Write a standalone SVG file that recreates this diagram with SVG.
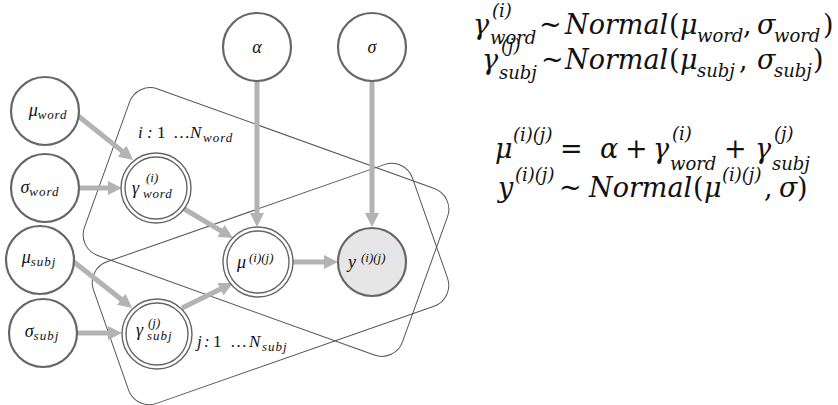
<svg xmlns="http://www.w3.org/2000/svg" width="838" height="405" viewBox="0 0 838 405">
  <style>
    .plate { fill: none; stroke: #555; stroke-width: 1; }
    .node { fill: #fff; stroke: #666; stroke-width: 2.2; }
    .obs { fill: #e6e6e6; stroke: #666; stroke-width: 2.2; }
    .dbl { fill: #fff; stroke: #666; stroke-width: 1.4; }
    .dbl-in { fill: none; stroke: #666; stroke-width: 1.4; }
    .edge { stroke: #b3b3b3; stroke-width: 5; fill: none; marker-end: url(#ah); }
    text { fill: #111; }
    .up { font-style: normal; }
    .lbl { font-size: 18px; }
    .lsub { font-size: 13px; }
    .eq { font-size: 27px; font-family: "DejaVu Serif", serif; font-style: italic; }
    .esub { font-size: 18px; }
  </style>
  <defs>
    <marker id="ah" markerUnits="userSpaceOnUse" markerWidth="14" markerHeight="14" viewBox="0 -7 14 14" refX="2" refY="0" orient="auto">
      <path d="M0,-7 L14,0 L0,7 z" fill="#b3b3b3"/>
    </marker>
  </defs>

  <g font-family="Liberation Serif, serif" font-style="italic">
  <!-- plates -->
  <g id="plate-word">
    <rect class="plate" x="97" y="133.5" width="338" height="177" rx="22" transform="rotate(19.8 266 222)"/>
    <text font-size="17"><tspan x="138" y="138">i</tspan><tspan x="147" y="138">:</tspan><tspan x="157" y="138" class="up">1</tspan><tspan x="173" y="138" class="up">…</tspan><tspan x="190" y="138">N</tspan><tspan x="203" y="142" font-size="13" letter-spacing="1">word</tspan></text>
  </g>
  <g id="plate-subj">
    <rect class="plate" x="101.5" y="209" width="338" height="150" rx="22" transform="rotate(-19.3 270.5 284)"/>
    <text font-size="17"><tspan x="197" y="347">j</tspan><tspan x="204" y="347">:</tspan><tspan x="213" y="347" class="up">1</tspan><tspan x="230" y="347" class="up">…</tspan><tspan x="249" y="347">N</tspan><tspan x="262" y="351" font-size="13" letter-spacing="1">subj</tspan></text>
  </g>

  <!-- connectors -->
  <g id="connectors">
    <line class="edge" x1="257" y1="81" x2="257" y2="215"/>
    <line class="edge" x1="372" y1="81" x2="372" y2="215"/>
    <line class="edge" x1="293" y1="262" x2="326" y2="262"/>
    <line class="edge" x1="79" y1="188" x2="110" y2="188"/>
    <line class="edge" x1="77" y1="115" x2="123.7" y2="152.4"/>
    <line class="edge" x1="181" y1="207" x2="222.7" y2="231.9"/>
    <line class="edge" x1="74" y1="262" x2="122.7" y2="300.5"/>
    <line class="edge" x1="78" y1="333" x2="110" y2="333"/>
    <line class="edge" x1="182" y1="308" x2="222.2" y2="288.3"/>
  </g>

  <!-- nodes -->
  <g id="alpha">
    <circle class="node" cx="257" cy="47" r="34"/>
    <text class="lbl" x="257" y="53" text-anchor="middle">α</text>
  </g>
  <g id="sigma">
    <circle class="node" cx="372" cy="47" r="34"/>
    <text class="lbl" x="372" y="53" text-anchor="middle">σ</text>
  </g>
  <g id="mu-word">
    <circle class="node" cx="45" cy="111" r="34"/>
    <text class="lbl" x="48" y="116" text-anchor="middle">μ<tspan class="lsub" dy="3" letter-spacing="0.8">word</tspan></text>
  </g>
  <g id="sigma-word">
    <circle class="node" cx="45" cy="188" r="34"/>
    <text class="lbl" x="40" y="193" text-anchor="middle">σ<tspan class="lsub" dy="3" letter-spacing="1">word</tspan></text>
  </g>
  <g id="mu-subj">
    <circle class="node" cx="40" cy="260" r="34"/>
    <text class="lbl" x="39" y="263" text-anchor="middle">μ<tspan class="lsub" dy="3" letter-spacing="1">subj</tspan></text>
  </g>
  <g id="sigma-subj">
    <circle class="node" cx="43" cy="333" r="34"/>
    <text class="lbl" x="42" y="337" text-anchor="middle">σ<tspan class="lsub" dy="3" letter-spacing="1">subj</tspan></text>
  </g>
  <g id="gamma-word">
    <circle class="dbl" cx="156" cy="188" r="35"/>
    <circle class="dbl-in" cx="156" cy="188" r="31"/>
    <text class="lbl"><tspan x="132" y="194">γ</tspan><tspan class="lsub" x="146" y="182">(i)</tspan><tspan class="lsub" x="143" y="198" letter-spacing="0.8">word</tspan></text>
  </g>
  <g id="gamma-subj">
    <circle class="dbl" cx="157" cy="334" r="35"/>
    <circle class="dbl-in" cx="157" cy="334" r="31"/>
    <text class="lbl"><tspan x="136" y="336">γ</tspan><tspan class="lsub" x="148" y="327">(j)</tspan><tspan class="lsub" x="147" y="340" letter-spacing="1">subj</tspan></text>
  </g>
  <g id="mu-ij">
    <circle class="dbl" cx="258" cy="262" r="35"/>
    <circle class="dbl-in" cx="258" cy="262" r="31"/>
    <text class="lbl"><tspan x="237" y="268">μ</tspan><tspan class="lsub" x="249" y="262">(i)(j)</tspan></text>
  </g>
  <g id="y-ij">
    <circle class="obs" cx="372" cy="262" r="34"/>
    <text class="lbl"><tspan x="348" y="268">y</tspan><tspan class="lsub" x="361" y="262">(i)(j)</tspan></text>
  </g>
  </g>

  <!-- model equations -->
  <g id="equations">
    <text class="eq"><tspan x="473" y="34">γ</tspan><tspan class="esub" x="492" y="17">(i)</tspan><tspan class="esub" x="490" y="44">word</tspan><tspan x="539" y="34">~</tspan><tspan x="565" y="34">Normal</tspan><tspan x="669" y="34" class="up">(</tspan><tspan x="680" y="34">μ</tspan><tspan class="esub" x="697" y="42">word</tspan><tspan x="743" y="34" class="up">,</tspan><tspan x="757" y="34">σ</tspan><tspan class="esub" x="774" y="42">word</tspan><tspan x="823" y="34" class="up">)</tspan></text>
    <text class="eq"><tspan x="482" y="69">γ</tspan><tspan class="esub" x="501" y="52">(j)</tspan><tspan class="esub" x="499" y="79">subj</tspan><tspan x="541" y="69">~</tspan><tspan x="565" y="69">Normal</tspan><tspan x="669" y="69" class="up">(</tspan><tspan x="680" y="69">μ</tspan><tspan class="esub" x="697" y="77">subj</tspan><tspan x="739" y="69" class="up">,</tspan><tspan x="757" y="69">σ</tspan><tspan class="esub" x="774" y="77">subj</tspan><tspan x="813" y="69" class="up">)</tspan></text>
    <text class="eq"><tspan x="495" y="158">μ</tspan><tspan class="esub" x="513" y="141">(i)(j)</tspan><tspan x="560" y="158" class="up">=</tspan><tspan x="600" y="158">α</tspan><tspan x="625" y="158" class="up">+</tspan><tspan x="653" y="158">γ</tspan><tspan class="esub" x="672" y="140">(i)</tspan><tspan class="esub" x="670" y="170">word</tspan><tspan x="724" y="158" class="up">+</tspan><tspan x="755" y="158">γ</tspan><tspan class="esub" x="774" y="140">(j)</tspan><tspan class="esub" x="772" y="170">subj</tspan></text>
    <text class="eq"><tspan x="498" y="197">y</tspan><tspan class="esub" x="515" y="181">(i)(j)</tspan><tspan x="559" y="197">~</tspan><tspan x="589" y="197">Normal</tspan><tspan x="693" y="197" class="up">(</tspan><tspan x="704" y="197">μ</tspan><tspan class="esub" x="722" y="181">(i)(j)</tspan><tspan x="764" y="197" class="up">,</tspan><tspan x="779" y="197">σ</tspan><tspan x="797" y="197" class="up">)</tspan></text>
  </g>
</svg>
